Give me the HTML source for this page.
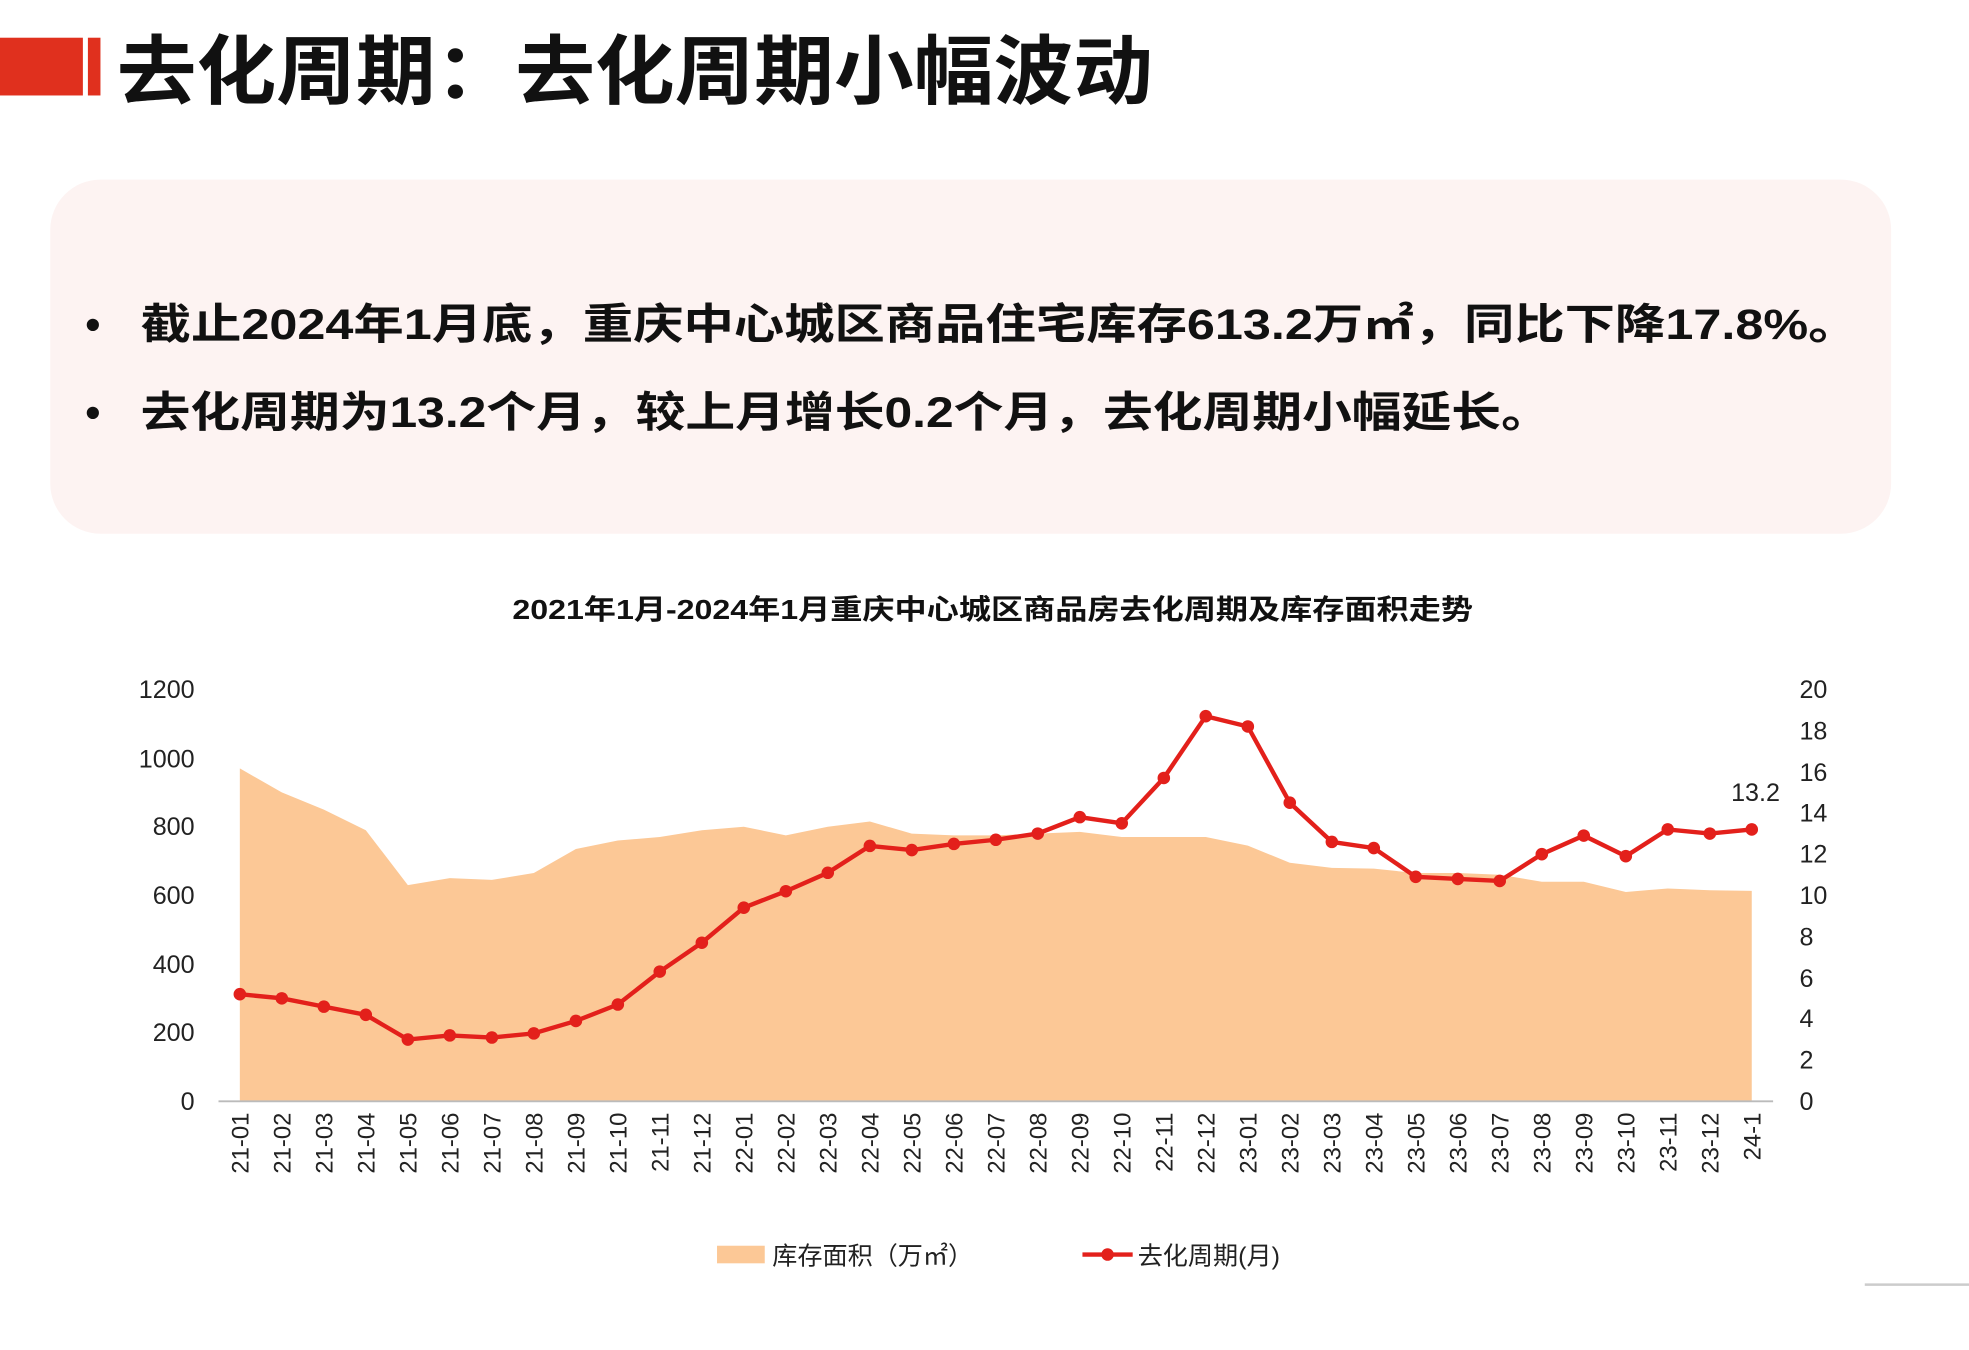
<!DOCTYPE html>
<html><head><meta charset="utf-8"><style>
html,body{margin:0;padding:0;background:#fff;}
svg{display:block;}
text{font-family:"Liberation Sans","Noto Sans CJK SC",sans-serif;}
</style></head><body>
<svg width="1969" height="1350" viewBox="0 0 1568 1075" xmlns="http://www.w3.org/2000/svg">
<defs>
<marker id="dot" markerWidth="12" markerHeight="12" refX="6" refY="6" markerUnits="userSpaceOnUse"><circle cx="6" cy="6" r="5" fill="#e3201b"/></marker>
</defs>
<rect width="1568" height="1075" fill="#fff"/>
<rect x="0" y="30" width="66" height="46" fill="#e0301e"/>
<rect x="70" y="30" width="10" height="46" fill="#e0301e"/>
<text x="93" y="78" font-size="60" font-weight="bold" fill="#111" textLength="825" lengthAdjust="spacingAndGlyphs">去化周期：去化周期小幅波动</text>
<rect x="40" y="143" width="1466" height="282" rx="40" fill="#fdf3f2"/>
<text x="68" y="270" font-size="34" font-weight="bold" fill="#111">•</text>
<text x="112" y="270" font-size="34" font-weight="bold" fill="#111" textLength="1368" lengthAdjust="spacingAndGlyphs">截止2024年1月底，重庆中心城区商品住宅库存613.2万㎡，同比下降17.8%。</text>
<text x="68" y="340" font-size="34" font-weight="bold" fill="#111">•</text>
<text x="112" y="340" font-size="34" font-weight="bold" fill="#111" textLength="1123" lengthAdjust="spacingAndGlyphs">去化周期为13.2个月，较上月增长0.2个月，去化周期小幅延长。</text>
<text x="408" y="493" font-size="22" font-weight="bold" fill="#111" textLength="765" lengthAdjust="spacingAndGlyphs">2021年1月-2024年1月重庆中心城区商品房去化周期及库存面积走势</text>
<g font-size="20" fill="#222">
<text x="155" y="556" text-anchor="end">1200</text>
<text x="155" y="611" text-anchor="end">1000</text>
<text x="155" y="665" text-anchor="end">800</text>
<text x="155" y="720" text-anchor="end">600</text>
<text x="155" y="775" text-anchor="end">400</text>
<text x="155" y="829" text-anchor="end">200</text>
<text x="155" y="884" text-anchor="end">0</text>
<text x="1433" y="556">20</text><text x="1433" y="589">18</text><text x="1433" y="622">16</text>
<text x="1433" y="654">14</text><text x="1433" y="687">12</text><text x="1433" y="720">10</text>
<text x="1433" y="753">8</text><text x="1433" y="786">6</text><text x="1433" y="818">4</text>
<text x="1433" y="851">2</text><text x="1433" y="884">0</text>
</g>
<path fill="#fcc896" d="M191,877 L191,611.9 L224.4,631 L257.9,644.7 L291.3,661.1 L324.8,704.8 L358.2,699.3 L391.7,700.7 L425.1,695.2 L458.6,676.1 L492,669.3 L525.4,666.5 L558.9,661.1 L592.3,658.3 L625.8,665.2 L659.2,658.3 L692.7,654.2 L726.1,663.8 L759.6,665.2 L793,665.2 L826.4,663.8 L859.9,662.4 L893.3,666.5 L926.8,666.5 L960.2,666.5 L993.7,673.4 L1027.1,687 L1060.6,691.1 L1094,691.7 L1127.4,695.2 L1160.9,695.2 L1194.3,696.6 L1227.8,702.1 L1261.2,702.1 L1294.7,710.3 L1328.1,707.5 L1361.6,708.9 L1395,709.4 L1395,877 Z"/>
<path fill="none" stroke="#e3201b" stroke-width="3.5" marker-start="url(#dot)" marker-mid="url(#dot)" marker-end="url(#dot)" d="M191,791.7 L224.4,795 L257.9,801.6 L291.3,808.1 L324.8,827.8 L358.2,824.5 L391.7,826.2 L425.1,822.9 L458.6,813 L492,799.9 L525.4,773.7 L558.9,750.7 L592.3,722.8 L625.8,709.7 L659.2,695 L692.7,673.6 L726.1,676.9 L759.6,672 L793,668.7 L826.4,663.8 L859.9,650.7 L893.3,655.6 L926.8,619.5 L960.2,570.3 L993.7,578.5 L1027.1,639.2 L1060.6,670.4 L1094,675.3 L1127.4,698.2 L1160.9,699.9 L1194.3,701.5 L1227.8,680.2 L1261.2,665.4 L1294.7,681.8 L1328.1,660.5 L1361.6,663.8 L1395,660.5"/>
<line x1="174" y1="877" x2="1412" y2="877" stroke="#bbb" stroke-width="1.5"/>
<g font-size="19" fill="#222" text-anchor="end">
<text transform="translate(198,886) rotate(-90)">21-01</text>
<text transform="translate(231.4,886) rotate(-90)">21-02</text>
<text transform="translate(264.9,886) rotate(-90)">21-03</text>
<text transform="translate(298.3,886) rotate(-90)">21-04</text>
<text transform="translate(331.8,886) rotate(-90)">21-05</text>
<text transform="translate(365.2,886) rotate(-90)">21-06</text>
<text transform="translate(398.7,886) rotate(-90)">21-07</text>
<text transform="translate(432.1,886) rotate(-90)">21-08</text>
<text transform="translate(465.6,886) rotate(-90)">21-09</text>
<text transform="translate(499,886) rotate(-90)">21-10</text>
<text transform="translate(532.4,886) rotate(-90)">21-11</text>
<text transform="translate(565.9,886) rotate(-90)">21-12</text>
<text transform="translate(599.3,886) rotate(-90)">22-01</text>
<text transform="translate(632.8,886) rotate(-90)">22-02</text>
<text transform="translate(666.2,886) rotate(-90)">22-03</text>
<text transform="translate(699.7,886) rotate(-90)">22-04</text>
<text transform="translate(733.1,886) rotate(-90)">22-05</text>
<text transform="translate(766.6,886) rotate(-90)">22-06</text>
<text transform="translate(800,886) rotate(-90)">22-07</text>
<text transform="translate(833.4,886) rotate(-90)">22-08</text>
<text transform="translate(866.9,886) rotate(-90)">22-09</text>
<text transform="translate(900.3,886) rotate(-90)">22-10</text>
<text transform="translate(933.8,886) rotate(-90)">22-11</text>
<text transform="translate(967.2,886) rotate(-90)">22-12</text>
<text transform="translate(1000.7,886) rotate(-90)">23-01</text>
<text transform="translate(1034.1,886) rotate(-90)">23-02</text>
<text transform="translate(1067.6,886) rotate(-90)">23-03</text>
<text transform="translate(1101,886) rotate(-90)">23-04</text>
<text transform="translate(1134.4,886) rotate(-90)">23-05</text>
<text transform="translate(1167.9,886) rotate(-90)">23-06</text>
<text transform="translate(1201.3,886) rotate(-90)">23-07</text>
<text transform="translate(1234.8,886) rotate(-90)">23-08</text>
<text transform="translate(1268.2,886) rotate(-90)">23-09</text>
<text transform="translate(1301.7,886) rotate(-90)">23-10</text>
<text transform="translate(1335.1,886) rotate(-90)">23-11</text>
<text transform="translate(1368.6,886) rotate(-90)">23-12</text>
<text transform="translate(1402,886) rotate(-90)">24-1</text>
</g>
<text x="1398" y="638" font-size="20" fill="#222" text-anchor="middle">13.2</text>
<rect x="571" y="992" width="38" height="14" fill="#fcc896"/>
<text x="615" y="1007" font-size="20" fill="#222">库存面积（万㎡）</text>
<line x1="862" y1="999" x2="902" y2="999" stroke="#e3201b" stroke-width="3.5"/>
<circle cx="882" cy="999" r="5" fill="#e3201b"/>
<text x="906" y="1007" font-size="20" fill="#222">去化周期(月)</text>
<line x1="1485" y1="1023" x2="1568" y2="1023" stroke="#ccc" stroke-width="2"/>
</svg>
</body></html>
